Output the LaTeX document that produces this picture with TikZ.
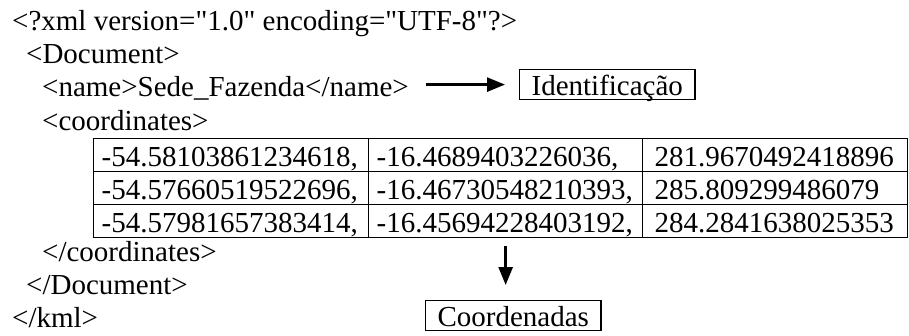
\documentclass[tikz,border=0pt]{standalone}
\usepackage{fontspec}
\setmainfont{Liberation Serif}[Ligatures=TeXOff]
\usetikzlibrary{arrows.meta}

\tikzset{
  linha/.style={anchor=base west, inner sep=0pt},
  celula/.style={draw, line width=1.3pt, anchor=north west, minimum height=33pt,
    inner xsep=8pt, align=left, text height=22pt, text depth=0pt},
  caixa/.style={draw, line width=1.2pt, inner xsep=12pt, inner ysep=2pt,
    text height=24pt, text depth=2pt},
  seta/.style={line width=2.6pt, -{Triangle[length=18pt,width=14pt]}}
}

\begin{document}
\begin{tikzpicture}[x=1pt, y=-1pt, every node/.style={font=\fontsize{29}{33}\selectfont}]

\useasboundingbox (0,0) rectangle (909,335);

% Linhas do arquivo
\node[linha] (l1) at (12,30) {<?xml version="1.0" encoding="UTF-8"?>};
\node[linha] (l2) at (26,63.5) {<Document>};
\node[linha] (nome) at (42,96) {<name>Sede\_Fazenda</name>};
\node[linha] (l4) at (42,130) {<coordinates>};

% Tabela das coordenadas
\node[celula, text width=259pt] (c11) at (93,138) {-54.58103861234618,};
\node[celula, text width=258pt] (c12) at (368,138) {-16.4689403226036,};
\node[celula, text width=241pt, inner xsep=12pt] (c13) at (642,138) {281.9670492418896};
\node[celula, text width=259pt] (c21) at (93,171) {-54.57660519522696,};
\node[celula, text width=258pt] (c22) at (368,171) {-16.46730548210393,};
\node[celula, text width=241pt, inner xsep=12pt] (c23) at (642,171) {285.809299486079};
\node[celula, text width=259pt] (c31) at (93,204) {-54.57981657383414,};
\node[celula, text width=258pt] (c32) at (368,204) {-16.45694228403192,};
\node[celula, text width=241pt, inner xsep=12pt] (c33) at (642,204) {284.2841638025353};

\node[linha] (l5) at (42,261) {</coordinates>};
\node[linha] (l6) at (26,294) {</Document>};
\node[linha] (l7) at (12,327) {</kml>};

% Caixas
\node[caixa, anchor=north west] (ident) at (519,69) {Identificação};
\node[caixa, anchor=north west] (coord) at (425,300) {Coordenadas};

% Setas
\draw[seta, shorten <=17pt, shorten >=14pt] (nome.east |- ident.west) -- (ident.west);
\draw[seta, shorten <=8pt, shorten >=15pt] (c32.south) -- (c32.south |- coord.north);

\end{tikzpicture}
\end{document}
